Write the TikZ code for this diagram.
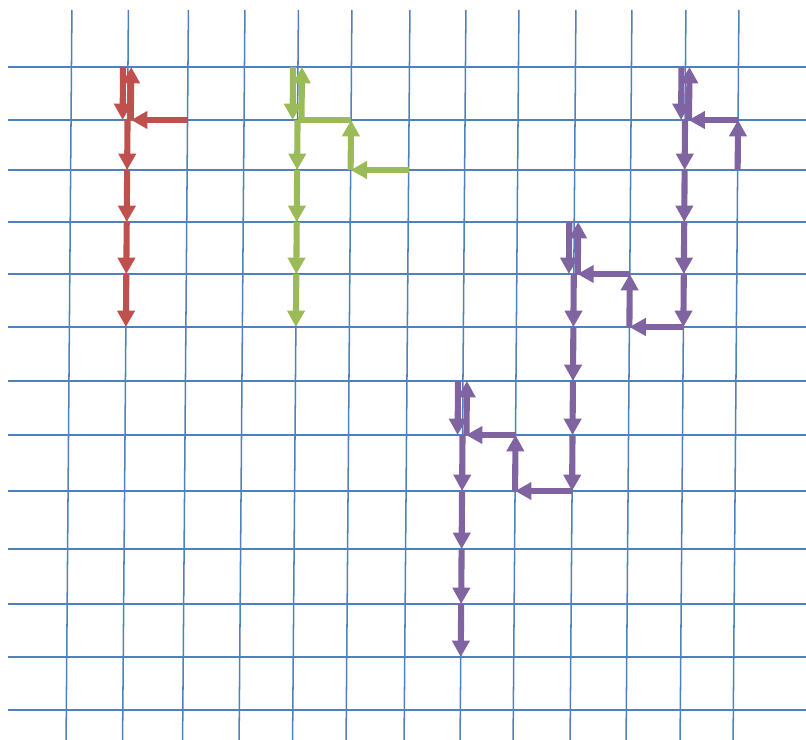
\documentclass[tikz,border=0pt]{standalone}
\usetikzlibrary{arrows.meta}
\definecolor{gridblue}{HTML}{4F81BD}
\definecolor{walkred}{HTML}{C0504D}
\definecolor{walkgreen}{HTML}{9BBB59}
\definecolor{walkpurple}{HTML}{8064A2}
\begin{document}
\begin{tikzpicture}[x=0.03cm, y=-0.03cm,
    gridline/.style={draw=gridblue, line width=1.3pt},
    move/.style={line width=5.2pt, -{Triangle[length=14pt,width=14.5pt]}}]
  % page frame, in pixels of the sheet
  \useasboundingbox (0,0) rectangle (806,740);

  % --- grid: rows are level, columns lean a little to the left ---
  \foreach \gy in {67,120,170,222,274,327,381,435,491,549,604,657,710}
    \draw[gridline] (8,\gy) -- (806,\gy);
  \begin{scope}[xslant=0.008]
    \foreach \gx [count=\i from 0] in {72,128.5,188.5,245,298.5,352,410,466,519,576,632,686,739} {
      \draw[gridline] (\gx,10) -- (\gx,740);
      \foreach \gy [count=\j from 0] in {67,120,170,222,274,327,381,435,491,549,604,657,710}
        \coordinate (g\i-\j) at (\gx,\gy);
    }
  \end{scope}

  % --- red walk ---
  \draw[move, walkred] ([xshift=-4.2pt]g1-0) -- ([xshift=-4.2pt]g1-1);
  \draw[move, walkred] ([xshift=2.8pt]g1-1) -- ([xshift=2.8pt]g1-0);
  \draw[move, walkred] (g2-1) -- ([xshift=3pt]g1-1);
  \foreach \j/\k in {1/2,2/3,3/4,4/5}
    \draw[move, walkred] (g1-\j) -- (g1-\k);

  % --- green walk ---
  \draw[move, walkgreen] ([xshift=-4.2pt]g4-0) -- ([xshift=-4.2pt]g4-1);
  \draw[move, walkgreen] ([xshift=3.4pt]g4-1) -- ([xshift=3.4pt]g4-0);
  \draw[line width=5.2pt, walkgreen] (g5-1) -- (g4-1);
  \draw[move, walkgreen] (g5-2) -- (g5-1);
  \draw[move, walkgreen] (g6-2) -- (g5-2);
  \foreach \j/\k in {1/2,2/3,3/4,4/5}
    \draw[move, walkgreen] (g4-\j) -- (g4-\k);

  % --- purple walk, top right ---
  \draw[move, walkpurple] ([xshift=-3.4pt]g11-0) -- ([xshift=-3.4pt]g11-1);
  \draw[move, walkpurple] ([xshift=3.4pt]g11-1) -- ([xshift=3.4pt]g11-0);
  \draw[move, walkpurple] (g12-1) -- ([xshift=3pt]g11-1);
  \draw[move, walkpurple] (g12-2) -- (g12-1);
  \foreach \j/\k in {1/2,2/3,3/4,4/5}
    \draw[move, walkpurple] (g11-\j) -- (g11-\k);
  \draw[move, walkpurple] (g11-5) -- (g10-5);
  \draw[move, walkpurple] (g10-5) -- (g10-4);
  \draw[move, walkpurple] (g10-4) -- ([xshift=3pt]g9-4);

  % --- purple walk, middle ---
  \draw[move, walkpurple] ([xshift=-4.2pt]g9-3) -- ([xshift=-4.2pt]g9-4);
  \draw[move, walkpurple] ([xshift=3.4pt]g9-4) -- ([xshift=3.4pt]g9-3);
  \foreach \j/\k in {4/5,5/6,6/7,7/8}
    \draw[move, walkpurple] (g9-\j) -- (g9-\k);
  \draw[move, walkpurple] (g9-8) -- (g8-8);
  \draw[move, walkpurple] (g8-8) -- (g8-7);
  \draw[move, walkpurple] (g8-7) -- ([xshift=3pt]g7-7);

  % --- purple walk, bottom ---
  \draw[move, walkpurple] ([xshift=-4.2pt]g7-6) -- ([xshift=-4.2pt]g7-7);
  \draw[move, walkpurple] ([xshift=3.4pt]g7-7) -- ([xshift=3.4pt]g7-6);
  \foreach \j/\k in {7/8,8/9,9/10,10/11}
    \draw[move, walkpurple] (g7-\j) -- (g7-\k);
\end{tikzpicture}
\end{document}
